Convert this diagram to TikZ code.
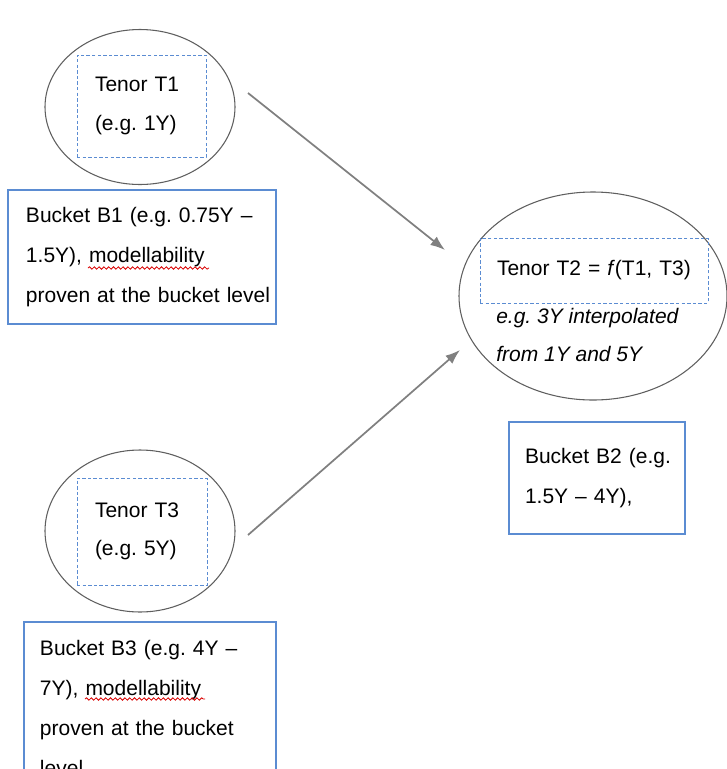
\documentclass[tikz,border=0pt]{standalone}
\usepackage{fontspec}
\setmainfont{Liberation Sans}
\usetikzlibrary{arrows.meta,positioning,shapes.geometric,decorations.pathmorphing}
\definecolor{boxblue}{RGB}{91,140,210}
\definecolor{linegray}{RGB}{128,128,128}
\definecolor{ringgray}{RGB}{95,95,95}
\frenchspacing

\begin{document}
\begin{tikzpicture}[
  x=0.75pt,y=-0.75pt,>={Latex[length=11pt,width=8pt]},
  tenor/.style={draw=ringgray,ellipse,line width=0.8pt,inner sep=0pt},
  pointbox/.style={draw=boxblue,dash pattern=on 2.6pt off 1.6pt,line width=0.7pt,
    align=left,inner xsep=13.5pt,font=\fontsize{15.75}{29}\selectfont},
  bucket/.style={draw=boxblue,line width=1.1pt,align=left,inner xsep=13.5pt,
    font=\fontsize{15.75}{30}\selectfont},
  note/.style={align=left,inner sep=0pt,font=\fontsize{15.75}{28.5}\selectfont\itshape},
  flow/.style={->,draw=linegray,line width=1.3pt},
  squiggle/.style={draw=red!85!black,line width=0.6pt,decorate,
    decoration={snake,amplitude=0.9pt,segment length=3.6pt}}
]
\useasboundingbox (0,0) rectangle (727,769);
\node[tenor,minimum width=142.5pt,minimum height=116.25pt] (e1) at (140,107) {};
\node[pointbox,text width=69.75pt,minimum height=76.5pt] (t1) at (141.5,106) {Tenor T1\\(e.g. 1Y)};
\node[bucket,text width=174pt,minimum height=100.5pt] (b1) at (142,257)
  {Bucket B1 (e.g. 0.75Y –\\1.5Y), modellability\\proven~at~the~bucket~level};
\node[tenor,minimum width=201pt,minimum height=156pt] (e2) at (593,296) {};
\node[pointbox,text width=145.5pt,inner xsep=12.75pt,minimum height=48.75pt] (t2) at (594,270.5)
  {Tenor T2 = \textit{f}(T1, T3)};
\node[note,anchor=west] (t2note) at (496,335) {e.g. 3Y interpolated\\from 1Y and 5Y};
\node[bucket,text width=108pt,inner xsep=12pt,minimum height=84pt] (b2) at (597,478)
  {Bucket~B2~(e.g.\\1.5Y – 4Y),};
\node[tenor,minimum width=142.5pt,minimum height=121.5pt] (e3) at (140,531) {};
\node[pointbox,text width=70.5pt,minimum height=80.25pt] (t3) at (142,531.5) {Tenor T3\\(e.g. 5Y)};
\node[bucket,text width=165pt,inner xsep=12pt,minimum height=129pt] (b3) at (150,708)
  {Bucket B3 (e.g. 4Y –\\7Y), modellability\\proven at the bucket\\level};
\coordinate (a1) at (248,93);
\coordinate (a2) at (445,250);
\coordinate (a3) at (248,535);
\coordinate (a4) at (460,350);
\draw[flow] (a1) -- (a2);
\draw[flow] (a3) -- (a4);
\draw[squiggle] (88,268) -- (209,268);
\draw[squiggle] (85,699) -- (205,699);
\end{tikzpicture}
\end{document}
